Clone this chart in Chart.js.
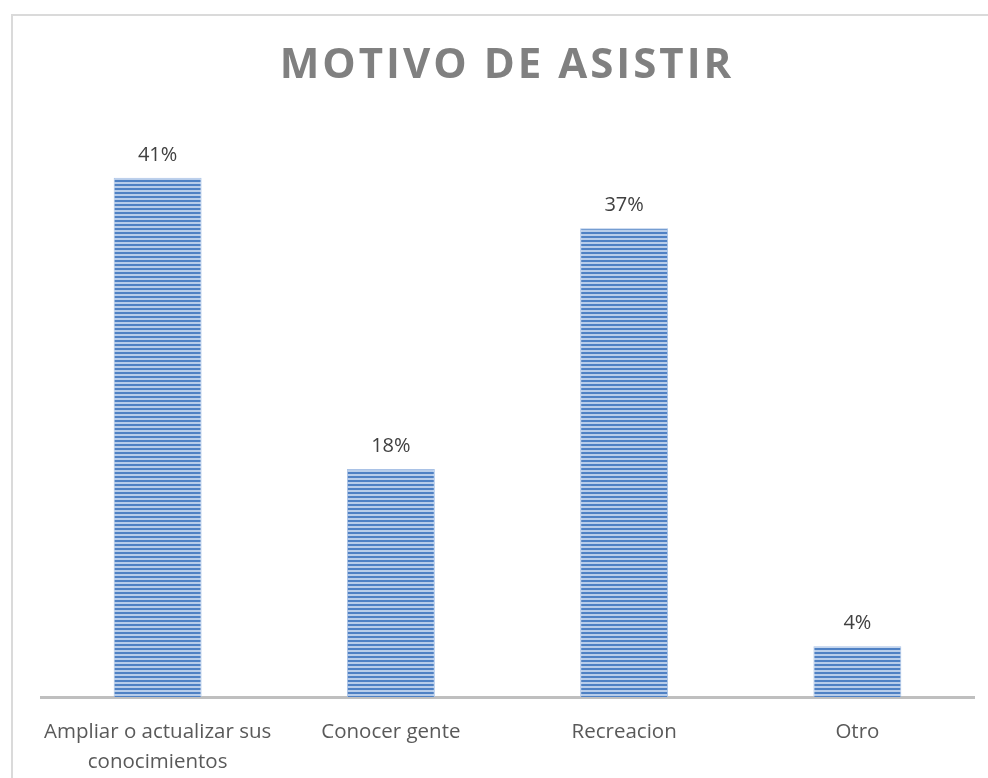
<!DOCTYPE html>
<html>
<head>
<meta charset="utf-8">
<script src="https://cdn.jsdelivr.net/npm/chart.js@4/dist/chart.umd.min.js"></script>
<style>
  html, body { margin: 0; padding: 0; background: #fff; overflow: hidden; }
  #frame {
    position: absolute; left: 11px; top: 14px;
    width: 1000px; height: 800px;
    border: 2px solid #dadada; box-sizing: border-box;
  }
  #wrap { position: absolute; left: 0; top: 0; width: 988px; height: 778px; }
</style>
</head>
<body>
<div id="frame"></div>
<div id="wrap"><canvas id="chart" width="988" height="778"></canvas></div>
<script>
const TITLE = "MOTIVO DE ASISTIR";
const CATEGORIES = [
  ["Ampliar o actualizar sus", "conocimientos"],
  "Conocer gente",
  "Recreacion",
  "Otro",
];
const PERCENTAGES = [41, 18, 37, 4];

const FONT = "'Open Sans', 'DejaVu Sans', sans-serif";

// horizontal stripe fill for the bars
function stripePattern() {
  const c = document.createElement("canvas");
  c.width = 4;
  c.height = 4;
  const g = c.getContext("2d");
  g.fillStyle = "#b8cdea";
  g.fillRect(0, 0, 4, 4);
  g.fillStyle = "#4f81c4";
  g.fillRect(0, 0, 4, 2);
  return g.createPattern(c, "repeat");
}

const titlePlugin = {
  id: "spacedTitle",
  afterDraw(chart) {
    const ctx = chart.ctx;
    ctx.save();
    ctx.font = `bold 42px ${FONT}`;
    ctx.letterSpacing = "3px";
    ctx.fillStyle = "#808080";
    ctx.textAlign = "center";
    ctx.textBaseline = "middle";
    ctx.fillText(TITLE, 507, 66);
    ctx.restore();
  },
};

const valueLabels = {
  id: "valueLabels",
  afterDatasetsDraw(chart) {
    const ctx = chart.ctx;
    const meta = chart.getDatasetMeta(0);
    ctx.save();
    ctx.font = `20px ${FONT}`;
    ctx.fillStyle = "#404040";
    ctx.textAlign = "center";
    ctx.textBaseline = "alphabetic";
    meta.data.forEach((bar, i) => {
      ctx.fillText(PERCENTAGES[i] + "%", bar.x, bar.y - 17);
    });
    ctx.restore();
  },
};

new Chart(document.getElementById("chart"), {
  type: "bar",
  data: {
    labels: CATEGORIES,
    datasets: [{
      data: PERCENTAGES,
      backgroundColor: stripePattern(),
      borderColor: "#a9c2e6",
      borderWidth: 1,
      categoryPercentage: 1,
      barPercentage: 0.377,
    }],
  },
  options: {
    responsive: false,
    animation: false,
    layout: { padding: { left: 41, right: 14, top: 127, bottom: 0 } },
    plugins: {
      legend: { display: false },
      tooltip: { enabled: false },
      title: { display: false },
    },
    scales: {
      x: {
        grid: { display: false, drawTicks: false },
        border: { color: "#bfbfbf", width: 3 },
        ticks: {
          color: "#595959",
          font: { family: FONT, size: 20.5, lineHeight: 1.42 },
          padding: 21,
        },
        afterFit(scale) { scale.height = 81; },
      },
      y: {
        display: false,
        min: 0,
        max: 45,
      },
    },
  },
  plugins: [titlePlugin, valueLabels],
});
</script>
</body>
</html>
